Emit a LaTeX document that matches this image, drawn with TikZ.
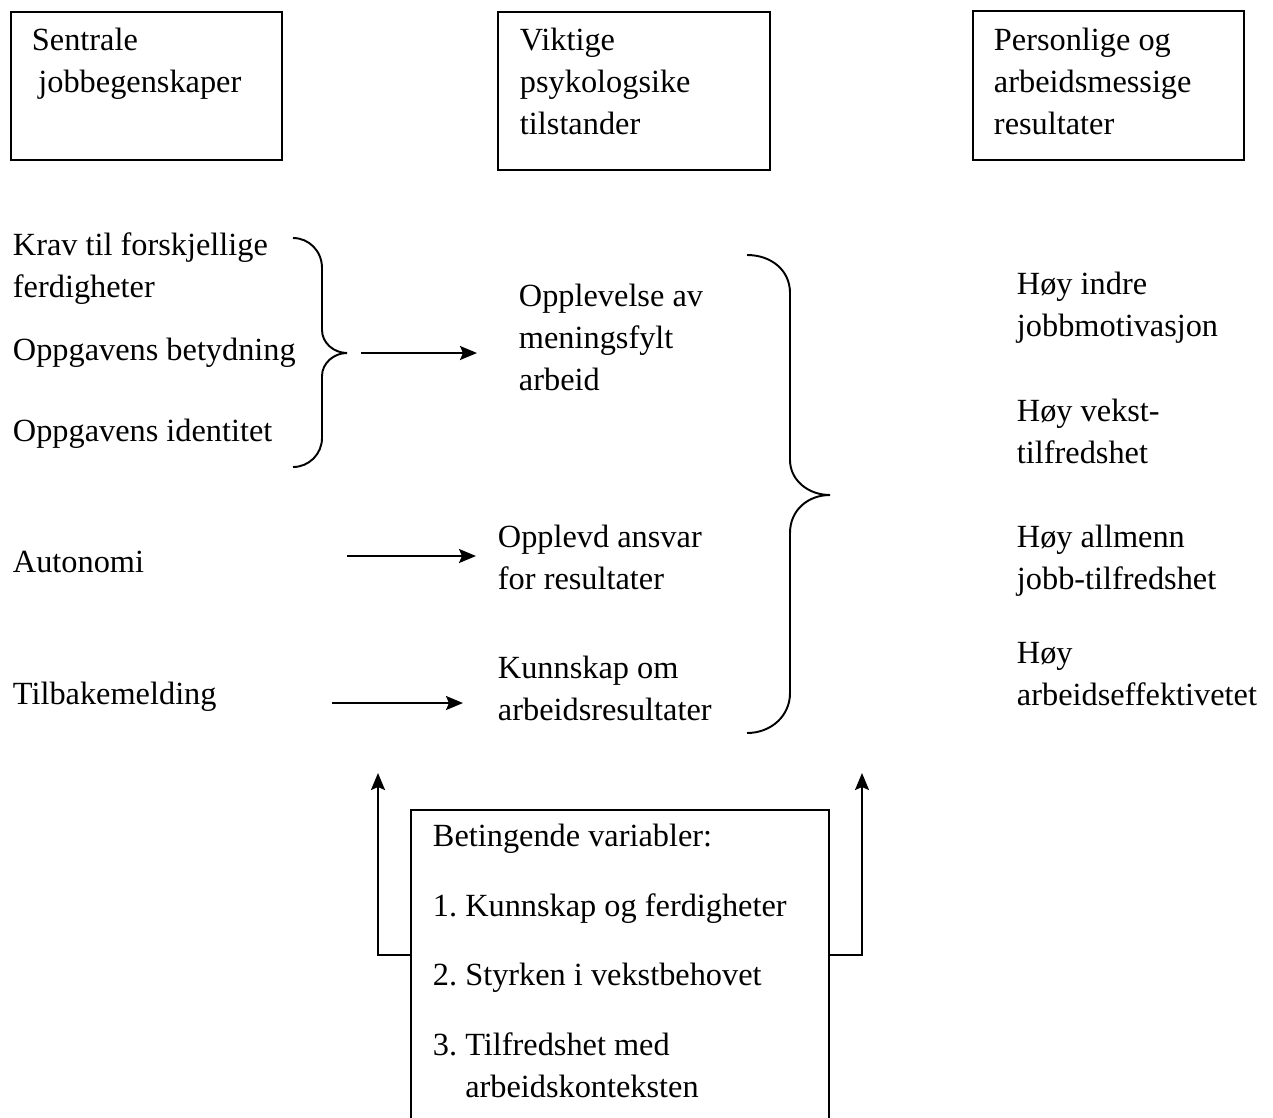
\documentclass[tikz,border=0pt]{standalone}
\usepackage{fontspec}
\setmainfont{Liberation Serif}
\usetikzlibrary{arrows.meta}
\frenchspacing

\begin{document}
\begin{tikzpicture}[x=0.02cm,y=-0.02cm,line width=1.1pt,
  every node/.style={font=\fontsize{18.4}{23.9}\selectfont},
  txt/.style={anchor=base west,inner sep=0pt,align=left},
  ramme/.style={draw,anchor=north west,inner sep=0pt},
  pil/.style={-{Stealth[length=0.34cm,width=0.28cm,inset=0.06cm]}}]
\useasboundingbox (0,0) rectangle (1273,1117);

\node[ramme,minimum width=5.42cm,minimum height=2.96cm] (box1) at (10,11) {};
\node[ramme,minimum width=5.44cm,minimum height=3.16cm] (box2) at (497,11) {};
\node[ramme,minimum width=5.42cm,minimum height=2.98cm] (box3) at (972,10) {};
\node[txt] (sentrale) at (31,92) {Sentrale\\ \hspace*{0.2em}jobbegenskaper};
\node[txt] (viktige) at (519,134) {Viktige\\psykologsike\\tilstander};
\node[txt] (person) at (993,134) {Personlige og\\arbeidsmessige\\resultater};

\node[txt] (krav) at (12,297) {Krav til forskjellige\\ferdigheter};
\node[txt] (betyd) at (12,360) {Oppgavens betydning};
\node[txt] (ident) at (12,441) {Oppgavens identitet};
\node[txt] (auto) at (12,572) {Autonomi};
\node[txt] (tilb) at (12,704) {Tilbakemelding};

\node[txt] (mening) at (518,390) {Opplevelse av\\meningsfylt\\arbeid};
\node[txt] (ansvar) at (497,589) {Opplevd ansvar\\for resultater};
\node[txt] (kunnskap) at (497,720) {Kunnskap om\\arbeidsresultater};

\node[txt] (indre) at (1016,336) {Høy indre\\jobbmotivasjon};
\node[txt] (vekst) at (1016,463) {Høy vekst-\\tilfredshet};
\node[txt] (allmenn) at (1016,589) {Høy allmenn\\jobb-tilfredshet};
\node[txt] (effekt) at (1016,705) {Høy\\arbeidseffektivetet};

\draw (293,238) .. controls (309,238) and (322,251) .. (322,268) -- (322,330)
  .. controls (322,343) and (334,353) .. (347,353)
  .. controls (334,353) and (322,363) .. (322,376) -- (322,438)
  .. controls (322,454) and (309,467) .. (293,467);
\draw (747,255) .. controls (771,255) and (790,270) .. (790,293) -- (790,460)
  .. controls (790,480) and (808,495) .. (830,495)
  .. controls (808,495) and (790,510) .. (790,533) -- (790,693)
  .. controls (790,716) and (771,733) .. (747,733);

\coordinate (p1s) at (361,353); \coordinate (p1e) at (477,353);
\coordinate (p2s) at (347,556); \coordinate (p2e) at (476,556);
\coordinate (p3s) at (332,703); \coordinate (p3e) at (463,703);
\draw[pil] (p1s) -- (p1e);
\draw[pil] (p2s) -- (p2e);
\draw[pil] (p3s) -- (p3e);

\node[ramme,minimum width=8.36cm,minimum height=6.6cm] (betinget) at (410,809) {};
\node[txt] (variabler) at (432,1097) {Betingende variabler:\\[0.55cm]
  1. Kunnskap og ferdigheter\\[0.55cm]
  2. Styrken i vekstbehovet\\[0.55cm]
  3. Tilfredshet med\\
  \hphantom{3.~}arbeidskonteksten};

\coordinate (vknee) at (378,955); \coordinate (vtip) at (378,773);
\coordinate (hknee) at (862,955); \coordinate (htip) at (862,773);
\draw[pil] (betinget.west |- vknee) -- (vknee) -- (vtip);
\draw[pil] (betinget.east |- hknee) -- (hknee) -- (htip);
\end{tikzpicture}
\end{document}
